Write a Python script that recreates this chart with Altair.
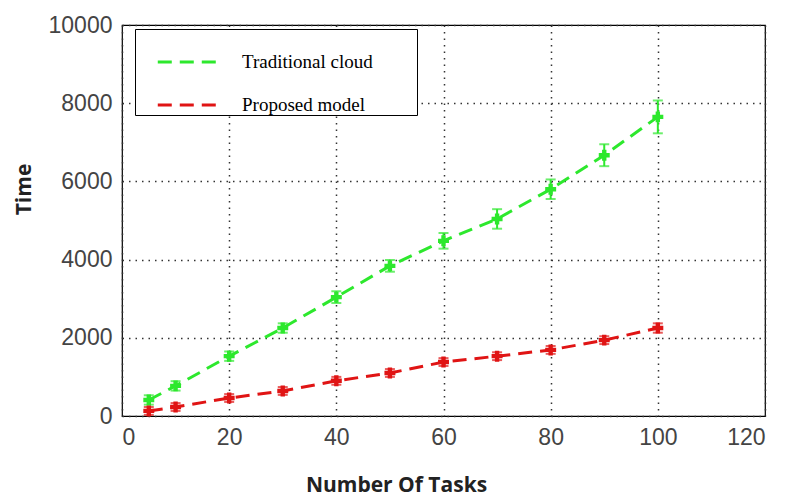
import altair as alt
import pandas as pd

tasks = [5, 10, 20, 30, 40, 50, 60, 70, 80, 90, 100]
traditional = [410, 770, 1530, 2250, 3040, 3840, 4480, 5040, 5800, 6670, 7650]
traditional_err = [120, 120, 120, 120, 150, 150, 200, 250, 250, 280, 420]
proposed = [130, 230, 460, 640, 900, 1100, 1380, 1530, 1690, 1940, 2250]
proposed_err = [100, 100, 100, 100, 100, 100, 100, 100, 100, 100, 120]
series_names = ["Traditional cloud", "Proposed model"]
colors = ["#2de82d", "#e01414"]

rows = []
for t, v, e in zip(tasks, traditional, traditional_err):
    rows.append({"tasks": t, "time": v, "lo": v - e, "hi": v + e, "series": series_names[0]})
for t, v, e in zip(tasks, proposed, proposed_err):
    rows.append({"tasks": t, "time": v, "lo": v - e, "hi": v + e, "series": series_names[1]})
df = pd.DataFrame(rows)

scale = alt.Scale(domain=series_names, range=colors)

color = alt.Color(
    "series:N",
    scale=scale,
    legend=alt.Legend(
        title=" ",
        titleOrient="right",
        titlePadding=44,
        orient="none",
        legendX=13,
        legendY=4,
        fillColor="white",
        strokeColor="black",
        padding=0,
        symbolOffset=21,
        symbolType="stroke",
        symbolDash=[14, 8],
        symbolStrokeWidth=3,
        symbolSize=3900,
        labelFont="Liberation Serif",
        labelFontSize=19,
        labelColor="black",
        labelOffset=20,
        rowPadding=0,
        labelLimit=300,
    ),
)

x = alt.X(
    "tasks:Q",
    scale=alt.Scale(domain=[0, 120], nice=False),
    axis=alt.Axis(
        values=[0, 20, 40, 60, 80, 100, 120],
        format="d",
        title="Number Of Tasks",
        titleX=274,
        titleY=75,
        titleBaseline="alphabetic",
        titleAnchor="start",
        titleAlign="center",
    ),
)
y = alt.Y(
    "time:Q",
    scale=alt.Scale(domain=[0, 10000], nice=False),
    axis=alt.Axis(
        values=[0, 2000, 4000, 6000, 8000, 10000],
        format="d",
        title="Time",
        titleX=-98,
        titleY=164,
        titleBaseline="middle",
        titleAlign="center",
        titleAnchor="start",
    ),
)

base = alt.Chart(df)

line = base.mark_line(strokeDash=[14, 8], strokeWidth=3).encode(x=x, y=y, color=color)
err = base.mark_rule(strokeWidth=2).encode(
    x="tasks:Q", y="lo:Q", y2="hi:Q", color=alt.Color("series:N", legend=None, scale=scale)
)
caps_lo = base.mark_tick(thickness=2, size=10, orient="horizontal").encode(
    x="tasks:Q", y="lo:Q", color=alt.Color("series:N", legend=None, scale=scale)
)
caps_hi = base.mark_tick(thickness=2, size=10, orient="horizontal").encode(
    x="tasks:Q", y="hi:Q", color=alt.Color("series:N", legend=None, scale=scale)
)
pts = base.mark_point(shape="cross", filled=True, size=120, opacity=1).encode(
    x="tasks:Q", y="time:Q", color=alt.Color("series:N", legend=None, scale=scale)
)

chart = (
    alt.layer(line, err, caps_lo, caps_hi, pts)
    .properties(
        width=643,
        height=391,
        autosize=alt.AutoSizeParams(type="none"),
        padding={"left": 114, "top": 17, "right": 12, "bottom": 80},
        background="white",
    )
    .configure_view(stroke="black", strokeWidth=1.2)
    .configure_axis(
        grid=True,
        gridColor="#333333",
        gridDash=[1.5, 5],
        gridWidth=1.5,
        domain=False,
        ticks=False,
        labelFont="Liberation Sans",
        labelFontSize=23,
        labelColor="#444444",
        labelPadding=10,
        titleFont="Open Sans",
        titleFontSize=21,
        titleFontWeight="bold",
        titleColor="#222222",
    )
)

chart.save("out.html", embed_options={"renderer": "svg", "actions": False})
